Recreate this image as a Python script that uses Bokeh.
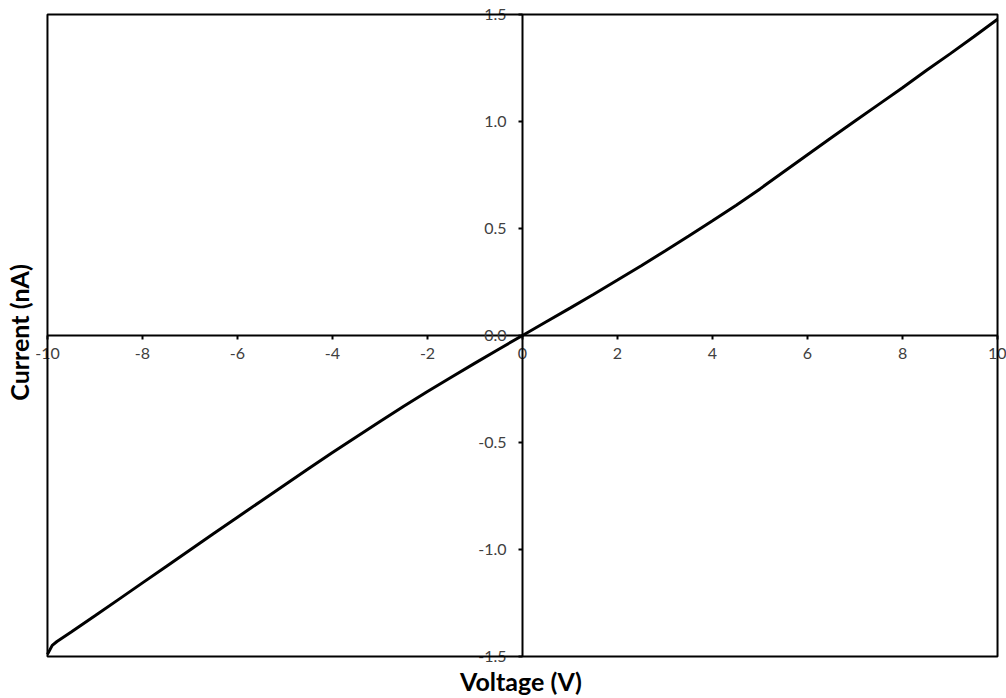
from bokeh.plotting import figure
from bokeh.models import LinearAxis, Range1d, FixedTicker, NumeralTickFormatter, BoxAnnotation
from bokeh.embed import file_html
from bokeh.resources import INLINE

# Data (Voltage in V, Current in nA)
voltage = [-10, -9.9, -9.8, -9.5, -9, -8.5, -8, -7.5, -7, -6.5, -6, -5.5, -5, -4.5, -4,
           -3.5, -3, -2.5, -2, -1.5, -1, -0.5, 0, 0.5, 1, 1.5, 2, 2.5, 3, 3.5, 4,
           4.5, 5, 5.5, 6, 6.5, 7, 7.5, 8, 8.5, 9, 9.5, 10]
current = [-1.49, -1.448, -1.43, -1.386, -1.31, -1.233, -1.156, -1.079, -1.002, -0.925,
           -0.849, -0.773, -0.697, -0.622, -0.547, -0.474, -0.402, -0.331, -0.262, -0.195,
           -0.129, -0.064, 0.0, 0.064, 0.128, 0.193, 0.259, 0.326, 0.395, 0.465, 0.536,
           0.609, 0.685, 0.765, 0.845, 0.924, 1.002, 1.08, 1.158, 1.238, 1.316, 1.396, 1.478]

x_ticks = [-10, -8, -6, -4, -2, 0, 2, 4, 6, 8, 10]
y_ticks = [-1.5, -1.0, -0.5, 0.0, 0.5, 1.0, 1.5]
x_title = "Voltage (V)"
y_title = "Current (nA)"

FONT = "Lato"
LABEL_COLOR = "#404040"

# Visible range is [-10, 10] x [-1.5, 1.5]; the plotting frame is a little larger
# so that edge tick labels are not clipped.
p = figure(width=1006, height=698,
           x_range=Range1d(-10.252, 10.189), y_range=Range1d(-1.5374, 1.5654),
           x_axis_type=None, y_axis_type=None,
           output_backend="svg", toolbar_location=None,
           min_border_left=34, min_border_right=0,
           min_border_top=0, min_border_bottom=34)
p.grid.visible = False
p.outline_line_color = None
p.background_fill_color = "white"
p.border_fill_color = "white"

# Chart border on the data limits
p.add_layout(BoxAnnotation(left=x_ticks[0], right=x_ticks[-1],
                           bottom=y_ticks[0], top=y_ticks[-1],
                           fill_color=None, fill_alpha=0,
                           line_color="black", line_alpha=1.0, line_width=2))

# Title-only axes on the sides
def title_axis(label, standoff):
    ax = LinearAxis(ticker=FixedTicker(ticks=[]), axis_label=label)
    ax.axis_line_color = None
    ax.major_tick_line_color = None
    ax.minor_tick_line_color = None
    ax.axis_label_text_font = FONT
    ax.axis_label_text_font_style = "bold"
    ax.axis_label_text_font_size = "25px"
    ax.axis_label_text_color = "black"
    ax.axis_label_standoff = standoff
    return ax

p.add_layout(title_axis(x_title, 1), "below")
p.add_layout(title_axis(y_title, 2), "left")

# Crossing axes through the origin
xaxis = LinearAxis(fixed_location=0, ticker=FixedTicker(ticks=x_ticks),
                   formatter=NumeralTickFormatter(format="0"),
                   bounds=(x_ticks[0], x_ticks[-1]))
xaxis.axis_line_color = "black"
xaxis.axis_line_width = 2
xaxis.major_tick_line_color = "black"
xaxis.major_tick_line_width = 2
xaxis.major_tick_in = 0
xaxis.major_tick_out = 4
xaxis.minor_tick_line_color = None
xaxis.major_label_text_font = FONT
xaxis.major_label_text_font_size = "16px"
xaxis.major_label_text_color = LABEL_COLOR
xaxis.major_label_standoff = 9
p.add_layout(xaxis, "below")

yaxis = LinearAxis(fixed_location=0, ticker=FixedTicker(ticks=y_ticks),
                   formatter=NumeralTickFormatter(format="0.0"),
                   bounds=(y_ticks[0], y_ticks[-1]))
yaxis.axis_line_color = "black"
yaxis.axis_line_width = 2
yaxis.major_tick_line_color = "black"
yaxis.major_tick_line_width = 2
yaxis.major_tick_in = 0
yaxis.major_tick_out = 4
yaxis.minor_tick_line_color = None
yaxis.major_label_text_font = FONT
yaxis.major_label_text_font_size = "16px"
yaxis.major_label_text_color = LABEL_COLOR
yaxis.major_label_standoff = 12
p.add_layout(yaxis, "left")

p.line(voltage, current, line_color="black", line_width=3)

open("out.html", "w").write(file_html(p, INLINE))
